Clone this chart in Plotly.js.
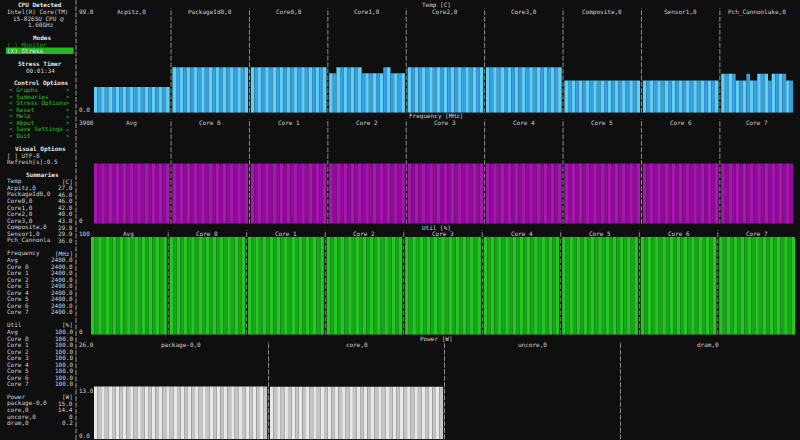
<!DOCTYPE html>
<html><head><meta charset="utf-8">
<script src="https://cdn.plot.ly/plotly-3.0.1.min.js"></script>
<style>html,body{margin:0;padding:0;background:#0f0f0f;} #chart{width:800px;height:440px;}</style>
</head><body><div id="chart"></div>
<script>
// ---------------- data ----------------
const tempLabels = ["Acpitz,0","PackageId0,0","Core0,0","Core1,0","Core2,0","Core3,0","Composite,0","Sensor1,0","Pch_Cannonlake,0"];
const tempAcpitz    = [26,26,26,26,26,26,26,26,26,26,26,26,26,26,26,26,26,26,26,26,26];
const tempPackage   = [46,46,46,46,46,46,46,46,46,46,46,46,46,46,46,46,46,46,46,46,46];
const tempCore0     = [46,46,46,46,46,46,46,46,46,46,46,46,46,46,46,46,46,46,46,46,46];
const tempCore1     = [40,40,46,46,46,46,46,46,46,40,40,40,40,40,40,46,46,40,40,40,40];
const tempCore2     = [46,46,46,46,46,46,46,46,46,46,46,46,46,46,46,46,46,46,46,46,46];
const tempCore3     = [46,46,46,46,46,46,46,46,46,46,46,46,46,46,46,46,46,46,46,46,46];
const tempComposite = [32.5,32.5,32.5,32.5,32.5,32.5,32.5,32.5,32.5,32.5,32.5,32.5,32.5,32.5,32.5,32.5,32.5,32.5,32.5,32.5,32.5];
const tempSensor1   = [32.5,32.5,32.5,32.5,32.5,32.5,32.5,32.5,32.5,32.5,32.5,32.5,32.5,32.5,32.5,32.5,32.5,32.5,32.5,32.5,32.5];
const tempPch       = [39.5,39.5,39.5,39.5,32.5,32.5,32.5,39.5,32.5,32.5,39.5,39.5,39.5,32.5,39.5,39.5,39.5,39.5,32.5,32.5];

const freqLabels = ["Avg","Core 0","Core 1","Core 2","Core 3","Core 4","Core 5","Core 6","Core 7"];
const freqAvg   = [2400,2400,2400,2400,2400,2400,2400,2400,2400,2400,2400,2400,2400,2400,2400,2400,2400,2400,2400,2400,2400];
const freqCore0 = [2400,2400,2400,2400,2400,2400,2400,2400,2400,2400,2400,2400,2400,2400,2400,2400,2400,2400,2400,2400,2400];
const freqCore1 = [2400,2400,2400,2400,2400,2400,2400,2400,2400,2400,2400,2400,2400,2400,2400,2400,2400,2400,2400,2400,2400];
const freqCore2 = [2400,2400,2400,2400,2400,2400,2400,2400,2400,2400,2400,2400,2400,2400,2400,2400,2400,2400,2400,2400,2400];
const freqCore3 = [2400,2400,2400,2400,2400,2400,2400,2400,2400,2400,2400,2400,2400,2400,2400,2400,2400,2400,2400,2400,2400];
const freqCore4 = [2400,2400,2400,2400,2400,2400,2400,2400,2400,2400,2400,2400,2400,2400,2400,2400,2400,2400,2400,2400,2400];
const freqCore5 = [2400,2400,2400,2400,2400,2400,2400,2400,2400,2400,2400,2400,2400,2400,2400,2400,2400,2400,2400,2400,2400];
const freqCore6 = [2400,2400,2400,2400,2400,2400,2400,2400,2400,2400,2400,2400,2400,2400,2400,2400,2400,2400,2400,2400,2400];
const freqCore7 = [2400,2400,2400,2400,2400,2400,2400,2400,2400,2400,2400,2400,2400,2400,2400,2400,2400,2400,2400,2400];

const utilLabels = ["Avg","Core 0","Core 1","Core 2","Core 3","Core 4","Core 5","Core 6","Core 7"];
const utilAvg   = [100,100,100,100,100,100,100,100,100,100,100,100,100,100,100,100,100,100,100,100,100];
const utilCore0 = [100,100,100,100,100,100,100,100,100,100,100,100,100,100,100,100,100,100,100,100,100];
const utilCore1 = [100,100,100,100,100,100,100,100,100,100,100,100,100,100,100,100,100,100,100,100,100];
const utilCore2 = [100,100,100,100,100,100,100,100,100,100,100,100,100,100,100,100,100,100,100,100,100];
const utilCore3 = [100,100,100,100,100,100,100,100,100,100,100,100,100,100,100,100,100,100,100,100,100];
const utilCore4 = [100,100,100,100,100,100,100,100,100,100,100,100,100,100,100,100,100,100,100,100,100];
const utilCore5 = [100,100,100,100,100,100,100,100,100,100,100,100,100,100,100,100,100,100,100,100,100];
const utilCore6 = [100,100,100,100,100,100,100,100,100,100,100,100,100,100,100,100,100,100,100,100,100];
const utilCore7 = [100,100,100,100,100,100,100,100,100,100,100,100,100,100,100,100,100,100,100,100,100];

const powerLabels = ["package-0,0","core,0","uncore,0","dram,0"];
const powerPackage = [15,15,15,15,15,15,15,15,15,15,15,15,15,15,15,15,15,15,15,15,15,15,15,15,15,15,15,15,15,15,15,15,15,15,15,15,15,15,15,15,15,15,15,15,15,15,15,15];
const powerCore    = [14.9,14.9,14.9,14.9,14.9,14.9,14.9,14.9,14.9,14.9,14.9,14.9,14.9,14.9,14.9,14.9,14.9,14.9,14.9,14.9,14.9,14.9,14.9,14.9,14.9,14.9,14.9,14.9,14.9,14.9,14.9,14.9,14.9,14.9,14.9,14.9,14.9,14.9,14.9,14.9,14.9,14.9,14.9,14.9,14.9,14.9,14.9,14.9];
const powerUncore  = [0,0,0,0,0,0,0,0,0,0,0,0,0,0,0,0,0,0,0,0,0,0,0,0,0,0,0,0,0,0,0,0,0,0,0,0,0,0,0,0,0,0,0,0,0,0,0,0];
const powerDram    = [0,0,0,0,0,0,0,0,0,0,0,0,0,0,0,0,0,0,0,0,0,0,0,0,0,0,0,0,0,0,0,0,0,0,0,0,0,0,0,0,0,0,0,0,0,0,0,0];

// y-axis tick labels of each graph
const tempTicks  = ["99.0","0.0"];
const freqTicks  = ["3900","0"];
const utilTicks  = ["100","0"];
const powerTicks = ["26.0","13.0","0.0"];

// side panel summaries
const sumTempNames  = ["Acpitz,0","PackageId0,0","Core0,0","Core1,0","Core2,0","Core3,0","Composite,0","Sensor1,0","Pch_Cannonla"];
const sumTempValues = ["27.0","46.0","46.0","42.0","40.0","43.0","29.9","29.9","36.0"];
const sumFreqNames  = ["Avg","Core 0","Core 1","Core 2","Core 3","Core 4","Core 5","Core 6","Core 7"];
const sumFreqValues = ["2400.0","2400.0","2400.0","2400.0","2400.0","2400.0","2400.0","2400.0","2400.0"];
const sumUtilNames  = ["Avg","Core 0","Core 1","Core 2","Core 3","Core 4","Core 5","Core 6","Core 7"];
const sumUtilValues = ["100.0","100.0","100.0","100.0","100.0","100.0","100.0","100.0","100.0"];
const sumPowerNames  = ["package-0,0","core,0","uncore,0","dram,0"];
const sumPowerValues = ["15.0","14.4","0","0.2"];
const controlOptions = ["Graphs","Summaries","Stress Options","Reset","Help","About","Save Settings","Quit"];

// ---------------- geometry helpers ----------------
const W = 800, H = 440;
const ROW0 = 5, ROWH = 6.53;
const rowC = r => ROW0 + ROWH * r;
const rowTop = r => rowC(r) - ROWH / 2;
const rowBot = r => rowC(r) + ROWH / 2;
const PX = p => p / W;
const PY = p => 1 - p / H;
const FONT = "DejaVu Sans Mono, monospace";
const FS = 6.0;
const TXT = "#d2d2d2";
const GREEN = "#2fbf2f";

const traces = [];
const annotations = [];
const shapes = [];
const layout = {
  width: W, height: H, margin: {l: 0, r: 0, t: 0, b: 0},
  paper_bgcolor: "#0f0f0f", plot_bgcolor: "rgba(0,0,0,0)",
  showlegend: false, hovermode: false, barmode: "overlay",
  annotations, shapes
};

function ann(text, xpx, ypx, anchor, color, opts, size) {
  annotations.push(Object.assign({
    text, x: PX(xpx), y: PY(ypx), xref: "paper", yref: "paper",
    xanchor: anchor, yanchor: "middle", showarrow: false,
    font: {family: FONT, size: size || FS, color: color || TXT}, borderpad: 0
  }, opts || {}));
}

function graph(idx, title, panels, labels, ticks, ymax, colors, xStart, xEnd, firstRow, lastRow) {
  const gap = 0.75;
  const xs = [], ys = [], cs = [];
  let pos = 0;
  const centers = [], seps = [];
  panels.forEach((vals, p) => {
    vals.forEach((v, i) => { xs.push(pos + i); ys.push(v); cs.push(colors[i % 2]); });
    centers.push(pos + (vals.length - 1) / 2);
    pos += vals.length + gap;
    if (p < panels.length - 1) seps.push(pos - gap / 2 - 0.5);
  });
  const xa = idx === 1 ? "x" : "x" + idx, ya = idx === 1 ? "y" : "y" + idx;
  const xk = idx === 1 ? "xaxis" : "xaxis" + idx, yk = idx === 1 ? "yaxis" : "yaxis" + idx;
  traces.push({type: "bar", x: xs, y: ys, width: 1, xaxis: xa, yaxis: ya,
    marker: {color: cs, line: {width: 0}}, hoverinfo: "skip"});
  const top = rowTop(firstRow + 1), bot = rowBot(lastRow);
  layout[xk] = {domain: [PX(xStart), PX(xEnd)], range: [-0.5, pos - gap - 0.5], visible: false, fixedrange: true, anchor: ya};
  layout[yk] = {domain: [PY(bot), PY(top)], range: [0, ymax], visible: false, fixedrange: true, anchor: xa};
  ann(title, 436, rowC(firstRow - 1), "center");
  labels.forEach((l, p) => annotations.push({text: l, x: centers[p], xref: xa, y: PY(rowC(firstRow)), yref: "paper",
    xanchor: "center", yanchor: "middle", showarrow: false, borderpad: 0,
    font: {family: FONT, size: FS, color: TXT}}));
  seps.forEach(s => shapes.push({type: "line", xref: xa, yref: "paper", x0: s, x1: s,
    y0: PY(rowBot(lastRow)), y1: PY(rowTop(firstRow)), line: {color: "#8a8a8a", width: 1, dash: "5px,1.5px"}}));
  ann(ticks[0], 77.5, rowC(firstRow), "left");
  if (ticks.length === 3) ann(ticks[1], 77.5, rowC(Math.round((firstRow + lastRow) / 2)), "left");
  ann(ticks[ticks.length - 1], 77.5, rowC(lastRow), "left");
}

graph(1, "Temp [C]",
  [tempAcpitz, tempPackage, tempCore0, tempCore1, tempCore2, tempCore3, tempComposite, tempSensor1, tempPch],
  tempLabels, tempTicks, 99, ["#5fcff2", "#3a9ddf"], 94, 793.3, 1, 16);
graph(2, "Frequency [MHz]",
  [freqAvg, freqCore0, freqCore1, freqCore2, freqCore3, freqCore4, freqCore5, freqCore6, freqCore7],
  freqLabels, freqTicks, 3900, ["#a816b2", "#8e0c98"], 94, 793.3, 18, 33);
graph(3, "Util [%]",
  [utilAvg, utilCore0, utilCore1, utilCore2, utilCore3, utilCore4, utilCore5, utilCore6, utilCore7],
  utilLabels, utilTicks, 100, ["#24c824", "#1aa41a"], 91, 795, 35, 50);
graph(4, "Power [W]",
  [powerPackage, powerCore, powerUncore, powerDram],
  powerLabels, powerTicks, 26, ["#e8e8e8", "#c4c4c4"], 94, 795, 52, 66);

// left border
shapes.push({type: "line", xref: "paper", yref: "paper", x0: PX(76), x1: PX(76), y0: 0, y1: 1,
  line: {color: "#9a9a9a", width: 1, dash: "5px,1.5px"}});

// ---------------- side panel ----------------
const B = t => "<b>" + t + "</b>";
ann(B("CPU Detected"), 40, rowC(0), "center", "#e6e6e6");
ann("Intel(R) Core(TM)", 37.5, rowC(1), "center");
ann("i5-8265U CPU @", 38.5, rowC(2), "center");
ann("1.60GHz", 41, rowC(3), "center");
ann(B("Modes"), 41.5, rowC(5), "center", "#e6e6e6");
ann("( ) Monitor", 5.8, rowC(6), "left", "#1f9a1f");
shapes.push({type: "rect", xref: "paper", yref: "paper", x0: PX(5.8), x1: PX(73.6),
  y0: PY(rowBot(7)), y1: PY(rowTop(7)), fillcolor: "#22b822", line: {width: 0}, layer: "below"});
ann("(X) Stress", 5.8, rowC(7), "left", "#f4f4f4");
ann(B("Stress Timer"), 40.3, rowC(9), "center", "#e6e6e6");
ann("00:01:34", 40, rowC(10), "center");
ann(B("Control Options"), 41.5, rowC(12), "center", "#e6e6e6");
controlOptions.forEach((o, i) => {
  ann("< " + o, 7.6, rowC(13 + i), "left", GREEN);
  ann(">", 70.6, rowC(13 + i), "right", GREEN);
});
ann(B("Visual Options"), 40, rowC(22), "center", "#e6e6e6");
ann("[ ] UTF-8", 5.8, rowC(23), "left");
ann("Refresh[s]:0.5", 5.8, rowC(24), "left");
ann(B("Summaries"), 42, rowC(26), "center", "#e6e6e6");

function block(row, head, unit, names, vals) {
  ann(head, 5.8, rowC(row), "left");
  ann(unit, 74.3, rowC(row), "right");
  names.forEach((n, i) => {
    ann(n, 5.8, rowC(row + 1 + i), "left");
    ann(vals[i], 74.3, rowC(row + 1 + i), "right");
  });
}
block(27, "Temp", "[C]", sumTempNames, sumTempValues);
block(38, "Frequency", "[MHz]", sumFreqNames, sumFreqValues);
block(49, "Util", "[%]", sumUtilNames, sumUtilValues);
block(60, "Power", "[W]", sumPowerNames, sumPowerValues);

Plotly.newPlot("chart", traces, layout, {staticPlot: true, displayModeBar: false});
</script>
</body></html>
